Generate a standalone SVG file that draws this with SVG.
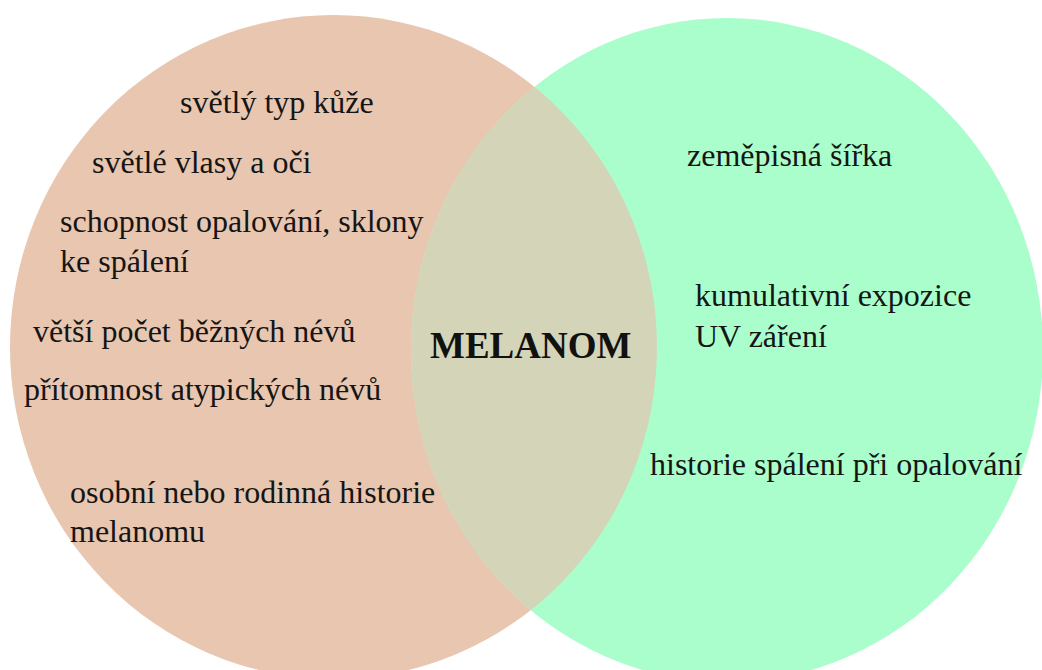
<svg xmlns="http://www.w3.org/2000/svg" width="1042" height="670" viewBox="0 0 1042 670">
  <style>
    .t { font-family: "Liberation Serif", "Times New Roman", serif; font-size: 32px; fill: #151515; }
    .c { font-family: "Liberation Serif", "Times New Roman", serif; font-size: 37px; font-weight: bold; fill: #111; }
  </style>
  <defs>
    <clipPath id="clipRight">
      <ellipse cx="727" cy="350" rx="316" ry="332"/>
    </clipPath>
  </defs>
  <rect width="1042" height="670" fill="#ffffff"/>
  <g id="set-left">
    <ellipse cx="333.5" cy="347" rx="323.5" ry="332" fill="#E8C6AF"/>
  </g>
  <g id="set-right">
    <ellipse cx="727" cy="350" rx="316" ry="332" fill="#AAFECC"/>
  </g>
  <g id="overlap">
    <ellipse cx="333.5" cy="347" rx="323.5" ry="332" fill="#D4D5B8" clip-path="url(#clipRight)"/>
    <text class="c" x="430" y="358">MELANOM</text>
  </g>
  <g id="left-labels">
    <text class="t" x="180" y="113">světlý typ kůže</text>
    <text class="t" x="92" y="173">světlé vlasy a oči</text>
    <text class="t" x="60" y="232">schopnost opalování, sklony</text>
    <text class="t" x="60" y="272">ke spálení</text>
    <text class="t" x="33" y="342">větší počet běžných névů</text>
    <text class="t" x="24" y="400">přítomnost atypických névů</text>
    <text class="t" x="70" y="503">osobní nebo rodinná historie</text>
    <text class="t" x="70" y="542">melanomu</text>
  </g>
  <g id="right-labels">
    <text class="t" x="687" y="166">zeměpisná šířka</text>
    <text class="t" x="695" y="306">kumulativní expozice</text>
    <text class="t" x="695" y="347">UV záření</text>
    <text class="t" x="650" y="475">historie spálení při opalování</text>
  </g>
</svg>
